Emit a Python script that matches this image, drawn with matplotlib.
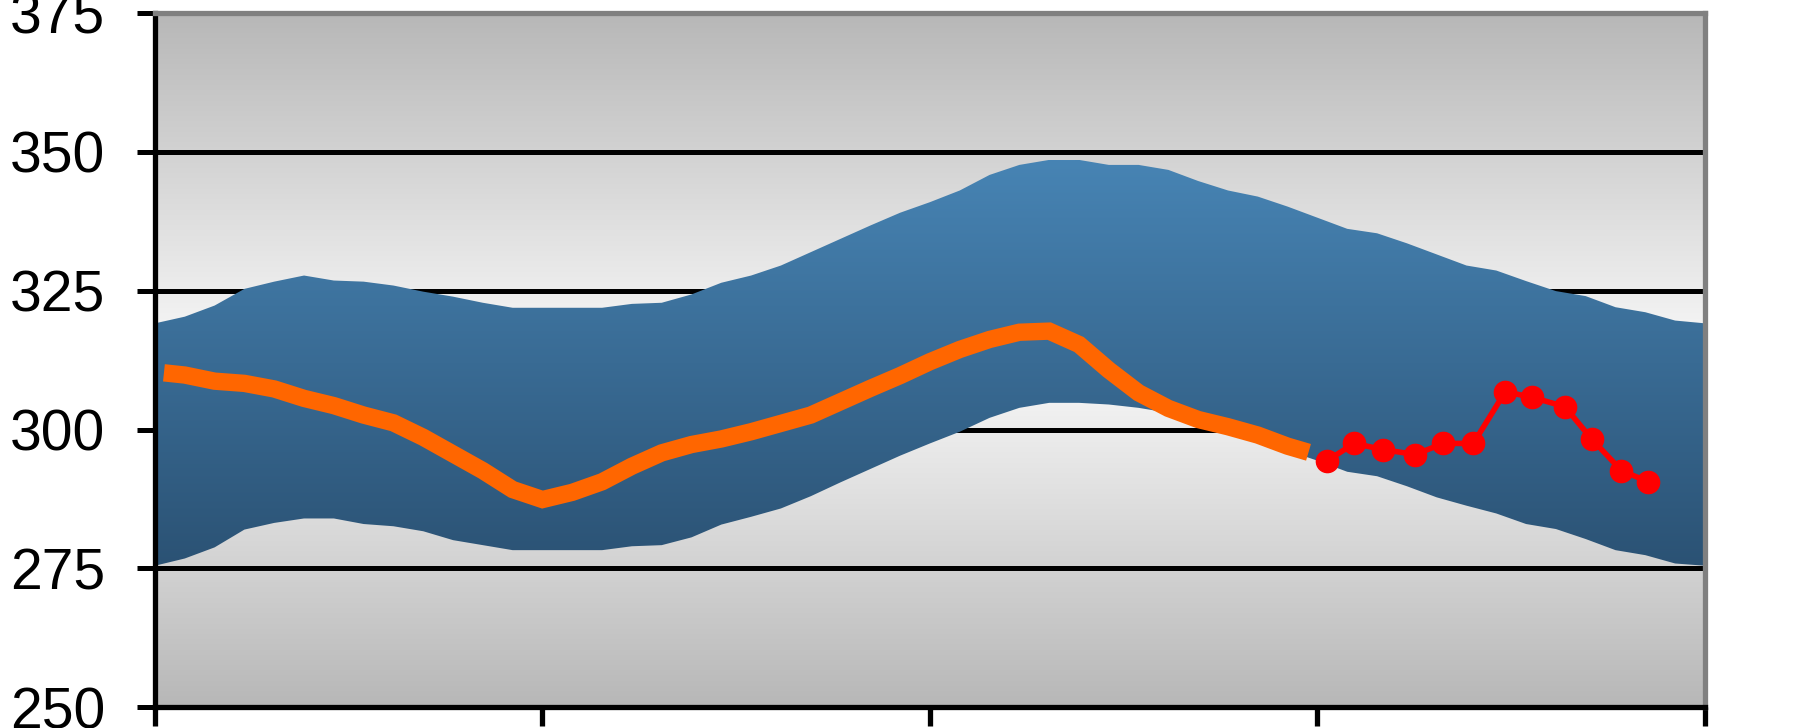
import numpy as np
import matplotlib
matplotlib.use("Agg")
import matplotlib.pyplot as plt
from matplotlib.patches import Polygon

# ---------------- data ----------------
weeks = list(range(0, 53))
band_upper = [319.1, 320.3, 322.3, 325.3, 326.6, 327.7, 326.8, 326.6, 325.9, 324.8,
              323.9, 322.8, 321.9, 321.9, 321.9, 321.9, 322.6, 322.8, 324.3, 326.4,
              327.7, 329.5, 331.9, 334.3, 336.7, 339.0, 340.9, 343.0, 345.8, 347.6,
              348.5, 348.5, 347.6, 347.6, 346.7, 344.7, 343.0, 341.9, 340.1, 338.1,
              336.1, 335.3, 333.5, 331.5, 329.5, 328.6, 326.7, 324.9, 324.0, 322.0,
              321.1, 319.6, 319.1]
band_lower = [275.5, 276.8, 278.8, 282.0, 283.2, 284.0, 284.0, 283.0, 282.6, 281.7,
              280.1, 279.2, 278.3, 278.3, 278.3, 278.3, 279.0, 279.2, 280.6, 282.9,
              284.3, 285.8, 288.0, 290.5, 292.9, 295.3, 297.5, 299.6, 302.1, 303.9,
              304.8, 304.8, 304.5, 303.9, 303.0, 301.0, 299.3, 298.0, 296.2, 294.4,
              292.4, 291.6, 289.8, 287.8, 286.3, 284.9, 283.0, 282.1, 280.3, 278.3,
              277.4, 275.9, 275.5]

orange_x = [0.3] + list(range(1, 39)) + [38.7]
orange_y = [310.2, 309.8, 308.7, 308.3, 307.3, 305.6, 304.3, 302.6, 301.2, 298.6,
            295.6, 292.6, 289.2, 287.4, 288.7, 290.6, 293.4, 295.8, 297.3, 298.3,
            299.6, 301.1, 302.6, 305.0, 307.4, 309.7, 312.2, 314.4, 316.2, 317.5,
            317.7, 315.3, 310.7, 306.6, 303.8, 301.8, 300.5, 299.0, 297.0, 295.9]

red_x = [39.33, 40.23, 41.19, 42.28, 43.22, 44.23, 45.30, 46.20, 47.30, 48.20, 49.20, 50.10]
red_y = [294.4, 297.5, 296.4, 295.5, 297.5, 297.5, 306.8, 305.8, 304.1, 298.3, 292.6, 290.6]

y_ticks = [250, 275, 300, 325, 350, 375]
y_tick_labels = ["250", "275", "300", "325", "350", "375"]
x_ticks = [0, 13, 26, 39, 52]

# ---------------- figure ----------------
fig = plt.figure(figsize=(17.96, 7.28), dpi=100)
fig.patch.set_facecolor("white")
ax = fig.add_axes([0.0863, 0.0282, 0.8630, 0.9545])

XMIN, XMAX, YMIN, YMAX = 0, 52, 250, 375

# background vertical gradient (grey -> near white -> grey)
vals = np.linspace(YMIN, YMAX, 400)
t = 1 - np.abs(vals - 312.5) / 62.5
g = 0.718 + t * (0.980 - 0.718)
bg = np.dstack([g, g, g]).reshape(400, 1, 3)
ax.imshow(bg, extent=(XMIN, XMAX, YMIN, YMAX), origin="lower",
          aspect="auto", zorder=0, interpolation="bilinear")

# blue band with vertical gradient, clipped to band polygon
top_c = np.array([0x47, 0x84, 0xb4]) / 255
bot_c = np.array([0x2b, 0x52, 0x74]) / 255
bmin, bmax = min(band_lower), max(band_upper)
ff = np.linspace(0, 1, 300)[:, None]
blue = (bot_c[None, :] * (1 - ff) + top_c[None, :] * ff).reshape(300, 1, 3)
img = ax.imshow(blue, extent=(XMIN, XMAX, bmin, bmax), origin="lower",
                aspect="auto", zorder=2, interpolation="bilinear")
verts = np.column_stack([np.r_[weeks, weeks[::-1]],
                         np.r_[band_upper, band_lower[::-1]]])
poly = Polygon(verts, closed=True, facecolor="none", edgecolor="none",
               transform=ax.transData)
ax.add_patch(poly)
img.set_clip_path(poly)

# orange line
ax.plot(orange_x, orange_y, color="#ff6600", lw=12.5, solid_capstyle="butt",
        solid_joinstyle="miter", zorder=3)

# red line with markers
ax.plot(red_x, red_y, color="#ff0000", lw=4, marker="o", markersize=16,
        markerfacecolor="#ff0000", markeredgecolor="#ff0000", zorder=4)

ax.set_xlim(XMIN, XMAX)
ax.set_ylim(YMIN, YMAX)

# grid
ax.set_axisbelow(True)
ax.set_yticks(y_ticks)
ax.set_yticklabels(y_tick_labels)
ax.set_xticks(x_ticks)
ax.set_xticklabels([])
ax.yaxis.grid(True, color="black", lw=3.6)
ax.xaxis.grid(False)
for gl in ax.get_ygridlines():
    gl.set_zorder(1)

# spines
for s in ["left", "bottom"]:
    ax.spines[s].set_color("black")
    ax.spines[s].set_linewidth(3.8)
for s in ["top", "right"]:
    ax.spines[s].set_color("#808080")
    ax.spines[s].set_linewidth(3.8)
for sp in ax.spines.values():
    sp.set_zorder(5)

ax.tick_params(axis="y", direction="out", length=13, width=3.6, color="black",
               pad=23, labelsize=41, labelcolor="black")
ax.tick_params(axis="x", direction="out", length=14, width=3.8, color="black")
for lbl in ax.get_yticklabels():
    lbl.set_family(["Liberation Sans", "DejaVu Sans"])

fig.savefig("out.png", dpi=100, facecolor="white")
